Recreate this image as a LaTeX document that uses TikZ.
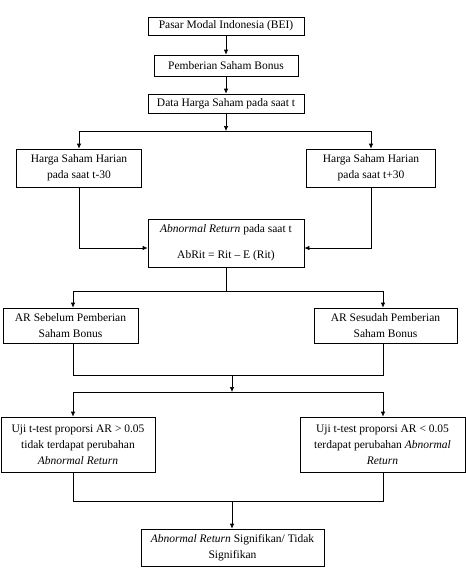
\documentclass[tikz,border=0pt]{standalone}
\usepackage{fontspec}
\setmainfont{Liberation Serif}
\usetikzlibrary{arrows.meta,calc}
\begin{document}
\begin{tikzpicture}[x=1pt,y=-1pt,
 box/.style={draw, line width=0.7pt, align=center, inner sep=0pt, font=\fontsize{11.5}{16}\selectfont},
 arr/.style={-{Latex[length=5pt,width=4.5pt]}, line width=0.7pt},
 ln/.style={line width=0.7pt}]
\useasboundingbox (0,0) rectangle (466,576);
\node[box, minimum width=156pt, minimum height=18pt] (b1) at (226,26) {Pasar Modal Indonesia (BEI)};
\node[box, minimum width=144pt, minimum height=21pt] (b2) at (226,65.5) {Pemberian Saham Bonus};
\node[box, minimum width=156pt, minimum height=19pt] (b3) at (226,103.5) {Data Harga Saham pada saat t};
\node[box, minimum width=125pt, minimum height=38pt] (b4) at (79,168) {Harga Saham Harian\\pada saat t-30};
\node[box, minimum width=129pt, minimum height=38pt] (b5) at (371,168) {Harga Saham Harian\\pada saat t+30};
\node[box, minimum width=156pt, minimum height=48pt] (ar) at (226,243) {\textit{Abnormal Return} pada saat t\\[10pt]AbRit = Rit -- E (Rit)};
\node[box, minimum width=135pt, minimum height=35pt] (seb) at (70.5,325.5) {AR Sebelum Pemberian\\Saham Bonus};
\node[box, minimum width=143pt, minimum height=35pt] (ses) at (385.5,325.5) {AR Sesudah Pemberian\\Saham Bonus};
\node[box, minimum width=154pt, minimum height=55pt] (ujl) at (78,444.5) {Uji t-test proporsi AR > 0.05\\tidak terdapat perubahan\\\textit{Abnormal Return}};
\node[box, minimum width=165pt, minimum height=55pt] (ujr) at (382.5,444.5) {Uji t-test proporsi AR < 0.05\\terdapat perubahan \textit{Abnormal}\\\textit{Return}};
\node[box, minimum width=183pt, minimum height=37pt] (fin) at (232.5,547.5) {\textit{Abnormal Return} Signifikan/ Tidak\\Signifikan};

\coordinate (j1) at (226,131);
\coordinate (j2) at (226,248);
\coordinate (j3) at (226,291);
\coordinate (xl) at (73,0);
\coordinate (xr) at (383,0);
\coordinate (j4) at (232,375);
\coordinate (j5) at (232,392);
\coordinate (j6) at (232,501);

\draw[arr] (b1) -- (b2);
\draw[arr] (b2) -- (b3);
\draw[arr] (b3) -- (j1);
\draw[ln] (j1 -| b4) -- (j1 -| b5);
\draw[arr] (j1 -| b4) -- (b4);
\draw[arr] (j1 -| b5) -- (b5);
\draw[arr] (b4) |- (ar.west |- j2);
\draw[arr] (b5) |- (ar.east |- j2);
\draw[ln] (ar) -- (j3);
\draw[ln] (j3 -| xl) -- (j3 -| xr);
\draw[arr] (j3 -| xl) -- (seb.north -| xl);
\draw[arr] (j3 -| xr) -- (ses.north -| xr);
\draw[ln] (seb.south -| xl) -- (j4 -| xl) -- (j4 -| xr) -- (ses.south -| xr);
\draw[arr] (j4) -- (j5);
\draw[ln] (j5 -| xl) -- (j5 -| xr);
\draw[arr] (j5 -| xl) -- (ujl.north -| xl);
\draw[arr] (j5 -| xr) -- (ujr.north -| xr);
\draw[ln] (ujl.south -| xl) -- (j6 -| xl) -- (j6 -| xr) -- (ujr.south -| xr);
\draw[arr] (j6) -- (fin.north -| j6);
\end{tikzpicture}
\end{document}
